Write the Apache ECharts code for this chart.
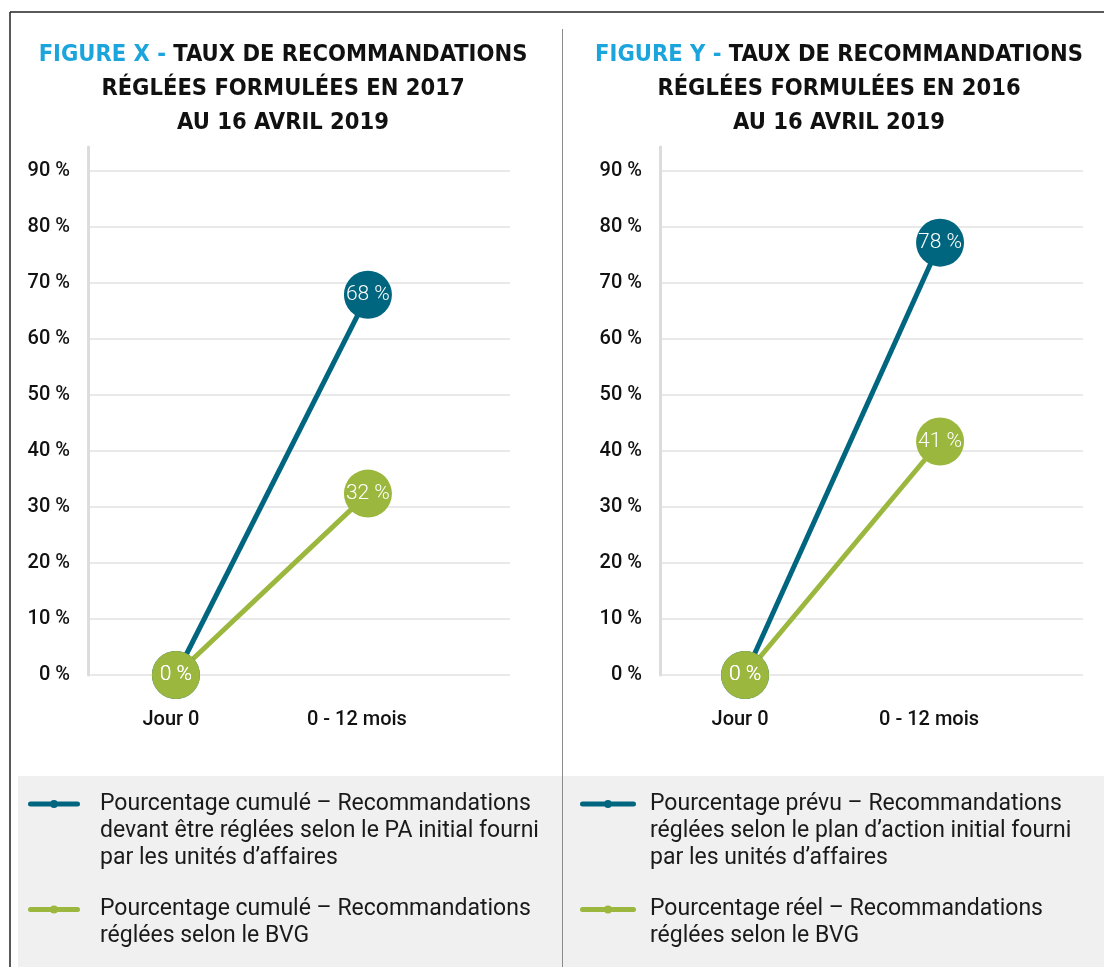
<!DOCTYPE html>
<html>
<head>
<meta charset="utf-8">
<title>Taux de recommandations réglées</title>
<style>
html, body { margin: 0; padding: 0; background: #fff; }
#chart { width: 1104px; height: 967px; }
</style>
<script src="https://cdn.jsdelivr.net/npm/echarts@6/dist/echarts.min.js"></script>
</head>
<body>
<div id="chart"></div>
<script>
// categories (x)
var periodes = ['Jour 0', '0 - 12 mois'];

// figure X (2017)
var pa2017 = [0, 67.9];
var bvg2017 = [0, 32.4];
var pa2017Labels = ['0 %', '68 %'];
var bvg2017Labels = ['0 %', '32 %'];

// figure Y (2016)
var prevu2016 = [0, 77.2];
var reel2016 = [0, 41.7];
var prevu2016Labels = ['0 %', '78 %'];
var reel2016Labels = ['0 %', '41 %'];

// y ticks
var yTicks = [0, 10, 20, 30, 40, 50, 60, 70, 80, 90];

// legend names
var nomsX = [
	'Pourcentage cumulé – Recommandations\ndevant être réglées selon le PA initial fourni\npar les unités d’affaires',
	'Pourcentage cumulé – Recommandations\nréglées selon le BVG'
];
var nomsY = [
	'Pourcentage prévu – Recommandations\nréglées selon le plan d’action initial fourni\npar les unités d’affaires',
	'Pourcentage réel – Recommandations\nréglées selon le BVG'
];

var BLEU = '#00667f';
var VERT = '#9bb73e';
var LINE_H = 27;
var ITEM_H = 3 * LINE_H;
var TITLE_FONT = "'DejaVu Sans Condensed', 'DejaVu Sans', sans-serif";

var myChart = echarts.init(document.getElementById('chart'));

//x value axis so the points can sit where they are in the original
function axeX(idx, min, max) {
	return {
		type: 'value',
		gridIndex: idx,
		min: min,
		max: max,
		axisLine: { show: false },
		axisTick: { show: false },
		splitLine: { show: false },
		axisLabel: {
			customValues: [0, 1],
			margin: 35,
			color: '#111',
			fontFamily: 'Roboto',
			fontWeight: 500,
			fontSize: 20,
			formatter: function(v) {
				return v === 1 ? '{s|' + periodes[1] + '}' : '{j|' + periodes[0] + '}';
			},
			rich: {
				j: { padding: [0, 10, 0, 0], color: '#111', fontFamily: 'Roboto', fontWeight: 500, fontSize: 20 },
				s: { padding: [0, 22, 0, 0], color: '#111', fontFamily: 'Roboto', fontWeight: 500, fontSize: 20 }
			}
		}
	};
}

function axeY(idx) {
	return {
		type: 'value',
		gridIndex: idx,
		min: yTicks[0],
		max: 94.29,
		interval: 10,
		axisLine: { show: true, onZero: false, lineStyle: { color: '#dcdcdc', width: 3 } },
		axisTick: { show: false },
		axisLabel: {
			showMaxLabel: false,
			margin: 18,
			color: '#111',
			fontFamily: 'Roboto',
			fontWeight: 500,
			fontSize: 20,
			formatter: '{value} %'
		},
		splitLine: { showMaxLine: false, lineStyle: { color: '#e2e2e2', width: 1.5 } }
	};
}

function serie(nom, idx, valeurs, labels, couleur) {
	return {
		name: nom,
		type: 'line',
		xAxisIndex: idx,
		yAxisIndex: idx,
		clip: false,
		symbol: 'circle',
		symbolSize: 48,
		data: valeurs.map(function(v, i) { return [i, v]; }),
		lineStyle: { color: couleur, width: 5 },
		itemStyle: { color: couleur },
		label: {
			show: true,
			position: 'inside',
			color: '#fff',
			fontFamily: 'Roboto',
			fontWeight: 300,
			fontSize: 21,
			formatter: function(p) { return labels[p.dataIndex]; }
		},
		emphasis: { disabled: true }
	};
}

//icone de legende: trait + point, placé à la hauteur de la 1re ligne du texte
//(le texte est centré verticalement sur la boite de l'icone)
function icone(lignes, larg, trait) {
	var cy = ITEM_H / 2 - (lignes - 1) * LINE_H / 2;
	var r = 2.5, m = trait / 2;
	return 'path://M0,0 Z M' + larg + ',' + ITEM_H + ' Z ' +
		'M' + r + ',' + (cy - r) + ' L' + (trait - r) + ',' + (cy - r) +
		' A' + r + ',' + r + ' 0 0 1 ' + (trait - r) + ',' + (cy + r) +
		' L' + r + ',' + (cy + r) +
		' A' + r + ',' + r + ' 0 0 1 ' + r + ',' + (cy - r) + ' Z ' +
		'M' + (m - 4) + ',' + cy + ' A4,4 0 1 1 ' + (m + 4) + ',' + cy +
		' A4,4 0 1 1 ' + (m - 4) + ',' + cy + ' Z';
}

function legende(noms, left, top, larg, trait) {
	return {
		orient: 'vertical',
		left: left,
		top: top,
		padding: 0,
		itemGap: 11,
		itemWidth: larg,
		itemHeight: ITEM_H,
		symbolKeepAspect: false,
		selectedMode: false,
		itemStyle: { borderWidth: 0 },
		textStyle: { fontFamily: 'Roboto', fontSize: 23, color: '#1a1a1a', lineHeight: LINE_H },
		data: noms.map(function(n) {
			return { name: n, icon: icone(n.split('\n').length, larg, trait) };
		})
	};
}

function titre(fig, an, centre) {
	return {
		left: centre,
		top: 38,
		padding: 0,
		textAlign: 'center',
		text: '{b|FIGURE ' + fig + ' - }{k|TAUX DE RECOMMANDATIONS}\n{k|RÉGLÉES FORMULÉES EN ' + an + '}\n{k|AU 16 AVRIL 2019}',
		textStyle: {
			fontFamily: TITLE_FONT,
			fontWeight: 'bold',
			fontSize: 23.5,
			lineHeight: 34,
			rich: {
				b: { color: '#1ba5dc', fontFamily: TITLE_FONT, fontWeight: 'bold', fontSize: 23.5, lineHeight: 34 },
				k: { color: '#111', fontFamily: TITLE_FONT, fontWeight: 'bold', fontSize: 23.5, lineHeight: 34 }
			}
		}
	};
}

var option = {
	animation: false,
	backgroundColor: '#fff',
	title: [titre('X', '2017', 283), titre('Y', '2016', 839)],
	grid: [
		{ left: 88, right: 594, top: 147, bottom: 292 },
		{ left: 660, right: 21, top: 147, bottom: 292 }
	],
	xAxis: [axeX(0, -0.458, 1.74), axeX(1, -0.436, 1.733)],
	yAxis: [axeY(0), axeY(1)],
	legend: [legende(nomsX, 28, 790.5, 67, 52), legende(nomsY, 580, 790.5, 65, 56)],
	graphic: [
		{ type: 'rect', z: -10, shape: { x: 18, y: 776, width: 1086, height: 191 }, style: { fill: '#f0f0f0' } },
		{ type: 'line', z: 10, shape: { x1: 10, y1: 12, x2: 1104, y2: 12 }, style: { stroke: '#222', lineWidth: 1.5 } },
		{ type: 'line', z: 10, shape: { x1: 10, y1: 12, x2: 10, y2: 967 }, style: { stroke: '#222', lineWidth: 1.5 } },
		{ type: 'line', z: 10, shape: { x1: 562.5, y1: 29, x2: 562.5, y2: 967 }, style: { stroke: '#8a8a8a', lineWidth: 1 } }
	],
	series: [
		serie(nomsX[0], 0, pa2017, pa2017Labels, BLEU),
		serie(nomsX[1], 0, bvg2017, bvg2017Labels, VERT),
		serie(nomsY[0], 1, prevu2016, prevu2016Labels, BLEU),
		serie(nomsY[1], 1, reel2016, reel2016Labels, VERT)
	]
};

myChart.setOption(option);
</script>
</body>
</html>
